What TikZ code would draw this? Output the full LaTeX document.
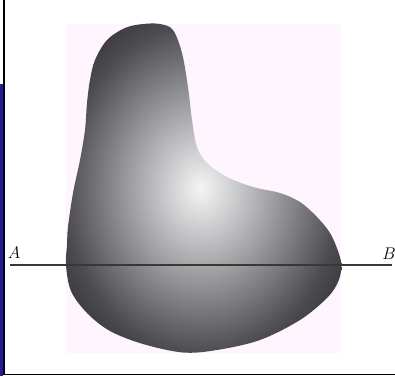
\documentclass[tikz,border=0pt]{standalone}
\usepackage{xcolor}
\usepackage{amsmath}
\usepackage{tikz}
\usetikzlibrary{
	calc, shadings
}
\definecolor{bgpink}  {RGB}{255, 245, 255}
\definecolor{barblue} {RGB}{ 38,  30, 135}
\definecolor{blobin}  {RGB}{245, 245, 246}
\definecolor{blobmid} {RGB}{165, 164, 167}
\definecolor{blobout} {RGB}{ 76,  75,  79}
\definecolor{blobedge}{RGB}{ 52,  51,  55}
\pgfdeclareradialshading{blobshade}{\pgfpoint{-0.5bp}{0bp}}{
	color(0bp)=(blobin); color(12bp)=(blobmid); color(25bp)=(blobout); color(31bp)=(blobedge); color(50bp)=(blobedge)
}
\begin{document}
\begin{tikzpicture}[x=0.025cm, y=-0.025cm]
						\useasboundingbox (0,0) rectangle (395,376);
						\fill[white] (0,0) rectangle (395,376);
						\fill[bgpink] (66,24) rectangle (341,353);
						\fill[barblue] (0,84) rectangle (3.4,376);
						\draw[line width=0.95pt] (4,0) -- (4,374.7) -- (395,374.7);
						\shade[shading=blobshade] plot[smooth cycle, tension=0.55] coordinates {
							(143,24) (160,24) (173,30) (182,53) (188,87) (192,120) (197,147)
							(207,163) (227,177) (253,187) (280,193) (300,202) (317,217)
							(330,233) (338,251) (341.5,266) (338,282) (327,298) (300,320)
							(260,340) (217,350) (183,352.5) (143,344) (110,331) (87,313)
							(71,291) (66,265) (67,245) (68,227) (73,193) (80,160) (85,130)
							(87,103) (90,80) (95,60) (107,40) (125,28)
						};
						\coordinate (a) at (10,265);
						\coordinate (b) at (392,265);
						\draw[line width=0.8pt, black!78] (a) -- (b);
						\node (la) at (14,253) {\large $A$};
						\node (lb) at (389,253.5) {\large $B$};
					\end{tikzpicture}
\end{document}
